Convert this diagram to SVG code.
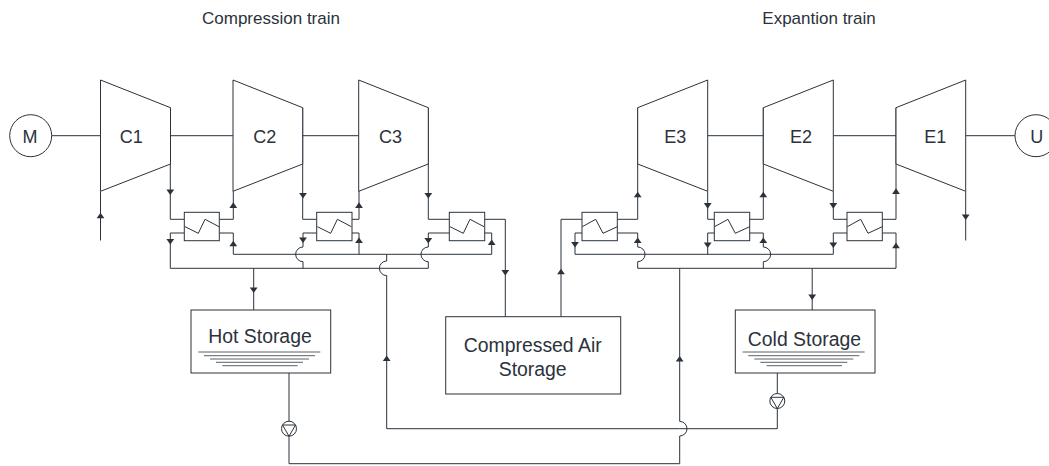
<svg xmlns="http://www.w3.org/2000/svg" width="1049" height="466" viewBox="0 0 1049 466">
<style>
text{font-family:"Liberation Sans",Arial,sans-serif;fill:#2b323b;font-size:18px;text-anchor:middle}
text.t{font-size:17px}
text.b{font-size:19.4px}
.s{fill:#fff;stroke:#2b323b;stroke-width:1}
.c{fill:none;stroke:#2b323b;stroke-width:1}
.a{fill:#2b323b;stroke:none}
.w{stroke:#5a6068;stroke-width:1;fill:none}
</style>
<defs>
<path id="u" class="a" d="M0 0L3.9 5.6H-3.9Z"/>
<path id="d" class="a" d="M0 0L-3.9 -5.6H3.9Z"/>
<path id="zc" class="c" d="M0.7 14.4L14 21L20.7 7L34.7 14.4"/>
<path id="ze" class="c" d="M0.3 14.4L13.7 7L21 21L35.3 14.4"/>
<g id="lines"><path class="w" d="M7.3 42H129.3M13 45.7H124M19 49H118M25 52.3H112M31.3 55.7H106.7"/></g>
<g id="pump"><circle class="s" r="7.5"/><path class="c" d="M-6.5 -3.7H6.5L0 7.5Z"/></g>
</defs>
<rect width="1049" height="466" fill="#fff"/>
<text id="title-compression" class="t" x="271" y="24">Compression train</text>
<text id="title-expansion" class="t" x="819" y="24">Expantion train</text>
<g id="connectors">
<path class="c" d="M51.7 135.7H100.5M170.5 135.7H233M302.7 135.7H358.7M707.7 135.7H763.3M833.3 135.7H896M965.7 135.7H1015"/>
<path class="c" d="M100.5 191.3V240.5M965.7 191.3V240.5"/>
<path class="c" d="M170.3 107.7V219.3H184.3M184.3 233H170.3V268.3H428.3V261.7A7.3 7.3 0 0 1 428.3 247V233H449.3"/>
<path class="c" d="M219.3 219.3H233.3V191M219.3 233H233.3V254.3H491.7V233H484.7"/>
<path class="c" d="M302.7 107.7V219.3H316.7M316.7 233H303V247A7.3 7.3 0 0 0 303 261.7V268.3"/>
<path class="c" d="M352 219.3H359V191M352 233H359V254.3"/>
<path class="c" d="M428.3 107.7V219.3H449.3M484.7 219.3H505.3V316.7"/>
<path class="c" d="M386.7 254.3V261A7.3 7.3 0 0 0 386.7 275.6V428.7H679.7M679.7 428.7H777.3V373"/>
<path class="c" d="M289 373V463.7H679.7V436A7.3 7.3 0 0 0 679.7 421.4V268.3"/>
<path class="c" d="M253.7 268.3V310M812.2 268.3V310"/>
<path class="c" d="M561 316.7V219.3H582M582 233H575V254.3H833.3V233H847"/>
<path class="c" d="M617.3 219.3H637.7V107.7M617.3 233H637.7V247A7.3 7.3 0 0 1 637.7 261.7V268.3H896V233H882.3"/>
<path class="c" d="M714.3 219.3H707.7V191.3M714.3 233H707.7V254.3"/>
<path class="c" d="M749.7 219.3H763.3V107.7M749.7 233H763.3V247A7.3 7.3 0 0 1 763.3 261.7V268.3"/>
<path class="c" d="M847 219.3H833.3V191.3M882.3 219.3H896V107.7"/>
<use href="#u" x="100.5" y="212.7"/><use href="#d" x="170.3" y="195"/><use href="#d" x="170.3" y="244.5"/>
<use href="#u" x="233.3" y="202.3"/><use href="#u" x="233.3" y="240.7"/>
<use href="#d" x="303" y="198.5"/><use href="#d" x="303" y="243"/>
<use href="#u" x="359" y="202.3"/><use href="#u" x="359" y="237.5"/>
<use href="#d" x="428.3" y="198.5"/><use href="#d" x="428.3" y="243.5"/>
<use href="#u" x="491.7" y="239.5"/><use href="#d" x="505.3" y="275.5"/>
<use href="#d" x="253.7" y="293"/><use href="#d" x="812.2" y="300"/>
<use href="#u" x="386.7" y="355.5"/><use href="#u" x="679.7" y="356"/>
<use href="#u" x="561" y="268.7"/><use href="#d" x="575" y="247.5"/>
<use href="#u" x="637.7" y="191.7"/><use href="#u" x="637.7" y="237.5"/>
<use href="#d" x="707.7" y="208.7"/><use href="#d" x="707.7" y="248"/>
<use href="#u" x="763.3" y="191.7"/><use href="#u" x="763.3" y="237.5"/>
<use href="#d" x="833.3" y="208.7"/><use href="#d" x="833.3" y="248"/>
<use href="#u" x="896" y="188.3"/><use href="#u" x="896" y="242.7"/>
<use href="#d" x="965.7" y="220"/>
</g>
<g id="motor"><circle class="s" cx="30.7" cy="135.7" r="21"/><text x="30" y="142.5">M</text></g>
<g id="C1"><path class="s" d="M100.5 80L170.5 107.7V164L100.5 191.3Z"/><text x="131.3" y="142.5">C1</text></g>
<g id="C2"><path class="s" d="M233 80L302.7 107.7V164L233 191.3Z"/><text x="264.7" y="142.5">C2</text></g>
<g id="C3"><path class="s" d="M358.7 80L428.3 107.7V164L358.7 191.3Z"/><text x="390.5" y="142.5">C3</text></g>
<g id="E3"><path class="s" d="M707.7 80L637.7 107.7V164L707.7 191.3Z"/><text x="675.3" y="142.5">E3</text></g>
<g id="E2"><path class="s" d="M833.3 80L763.3 107.7V164L833.3 191.3Z"/><text x="801" y="142.5">E2</text></g>
<g id="E1"><path class="s" d="M965.7 80L896 107.7V164L965.7 191.3Z"/><text x="935.3" y="142.5">E1</text></g>
<g id="generator"><circle class="s" cx="1036" cy="135.7" r="21"/><text x="1036.7" y="142.5">U</text></g>
<g id="HX-C1"><rect class="s" x="184.3" y="212.3" width="35" height="28.4"/><use href="#zc" x="184.3" y="212.3"/></g>
<g id="HX-C2"><rect class="s" x="316.7" y="212.3" width="35.3" height="28.4"/><use href="#zc" x="316.7" y="212.3"/></g>
<g id="HX-C3"><rect class="s" x="449.3" y="212.3" width="35.4" height="28.4"/><use href="#zc" x="449.3" y="212.3"/></g>
<g id="HX-E3"><rect class="s" x="582" y="212.3" width="35.3" height="28.4"/><use href="#ze" x="582" y="212.3"/></g>
<g id="HX-E2"><rect class="s" x="714.3" y="212.3" width="35.4" height="28.4"/><use href="#ze" x="714.3" y="212.3"/></g>
<g id="HX-E1"><rect class="s" x="847" y="212.3" width="35.3" height="28.4"/><use href="#ze" x="847" y="212.3"/></g>
<g id="hot-storage"><rect class="s" x="191" y="310" width="139.7" height="63"/><text class="b" x="260" y="343">Hot Storage</text><use href="#lines" x="191" y="310"/></g>
<g id="air-storage"><rect class="s" x="445.7" y="316.7" width="175" height="77.3"/><text class="b" x="532.7" y="351.7">Compressed Air</text><text class="b" x="532.7" y="376">Storage</text></g>
<g id="cold-storage"><rect class="s" x="735.3" y="310" width="139.7" height="63"/><text class="b" x="804.4" y="346">Cold Storage</text><use href="#lines" x="735.3" y="310"/></g>
<use id="hot-pump" href="#pump" x="289" y="428.7"/>
<use id="cold-pump" href="#pump" x="777.3" y="401"/>
</svg>
